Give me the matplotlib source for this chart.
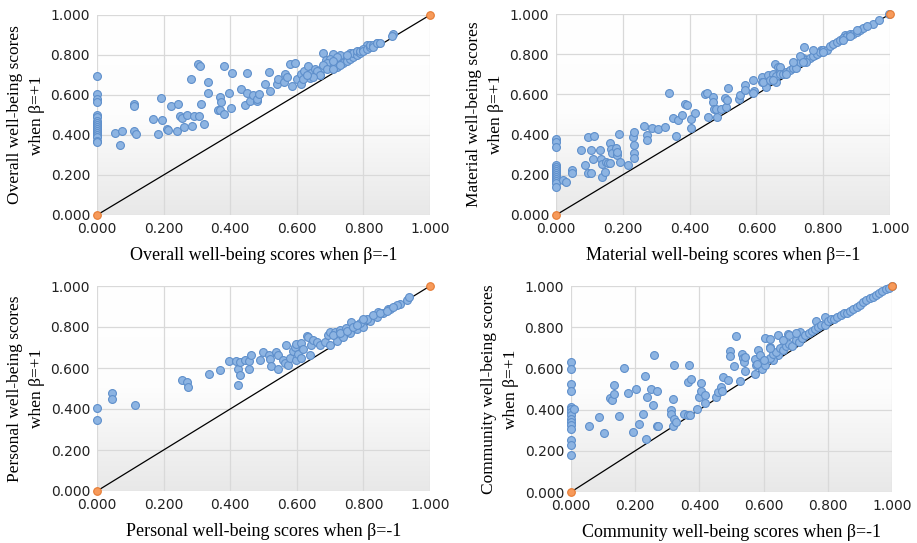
import numpy as np
import matplotlib
matplotlib.use("Agg")
import matplotlib.pyplot as plt
from matplotlib.colors import LinearSegmentedColormap

# ---------------- data ----------------
overall_x = [0]*17 + [0.055, 0.076, 0.070, 0.111, 0.118, 0.112, 0.112, 0.168, 0.184, 0.191, 0.195,
    0.210, 0.214, 0.222, 0.240, 0.242, 0.250, 0.255, 0.262, 0.270, 0.283, 0.285, 0.290, 0.304,
    0.309, 0.307, 0.313, 0.322, 0.334, 0.334, 0.364, 0.369, 0.370, 0.373, 0.380, 0.380, 0.395,
    0.401, 0.404, 0.431, 0.443, 0.450, 0.450, 0.460, 0.468, 0.480, 0.480, 0.486, 0.504, 0.517,
    0.520, 0.540, 0.543, 0.565, 0.563, 0.571, 0.580, 0.585, 0.594, 0.600, 0.614, 0.614, 0.621,
    0.634, 0.640, 0.644, 0.656, 0.669, 0.678, 0.679, 0.689, 0.709, 0.760, 0.810, 0.840, 0.890,
    0.885, 0.70, 0.71, 0.72, 0.72, 0.73, 0.74, 0.74, 0.75, 0.75, 0.76, 0.76, 0.77, 0.77, 0.78,
    0.78, 0.79, 0.79, 0.80, 0.80, 0.81, 0.82, 0.82, 0.83, 0.83, 0.84, 0.85, 0.73, 0.72, 0.70,
    0.69, 0.75, 0.71, 0.68, 0.69, 0.71, 0.73, 0.66, 0.67, 0.65, 0.62, 0.63]
overall_y = [0.695, 0.605, 0.580, 0.565, 0.500, 0.490, 0.470, 0.460, 0.450, 0.440, 0.430, 0.420,
    0.410, 0.400, 0.390, 0.370, 0.365, 0.410, 0.418, 0.348, 0.418, 0.405, 0.555, 0.547, 0.480,
    0.405, 0.587, 0.477, 0.430, 0.423, 0.547, 0.418, 0.557, 0.497, 0.485, 0.440, 0.500, 0.682,
    0.446, 0.497, 0.753, 0.744, 0.497, 0.557, 0.455, 0.667, 0.610, 0.525, 0.590, 0.527, 0.567,
    0.505, 0.744, 0.612, 0.535, 0.711, 0.630, 0.550, 0.712, 0.610, 0.569, 0.602, 0.570, 0.582,
    0.607, 0.657, 0.717, 0.620, 0.654, 0.679, 0.706, 0.664, 0.689, 0.756, 0.647, 0.761, 0.681,
    0.704, 0.657, 0.719, 0.744, 0.686, 0.712, 0.729, 0.702, 0.808, 0.734, 0.774, 0.804, 0.808,
    0.849, 0.861, 0.903, 0.895, 0.74, 0.75, 0.76, 0.74, 0.77, 0.78, 0.76, 0.79, 0.77, 0.80, 0.78,
    0.79, 0.81, 0.80, 0.82, 0.81, 0.82, 0.83, 0.82, 0.83, 0.84, 0.85, 0.85, 0.84, 0.86, 0.86,
    0.80, 0.79, 0.78, 0.76, 0.80, 0.77, 0.75, 0.73, 0.73, 0.75, 0.72, 0.70, 0.69, 0.68, 0.70]

material_x = [0]*14 + [0.022, 0.029, 0.047, 0.049, 0.075, 0.088, 0.095, 0.114, 0.096, 0.106, 0.106,
    0.111, 0.131, 0.134, 0.139, 0.139, 0.146, 0.151, 0.156, 0.161, 0.164, 0.168, 0.163, 0.181,
    0.183, 0.184, 0.188, 0.193, 0.216, 0.231, 0.234, 0.233, 0.234, 0.233, 0.264, 0.271, 0.271,
    0.286, 0.304, 0.326, 0.339, 0.351, 0.359, 0.366, 0.378, 0.385, 0.393, 0.403, 0.405, 0.417,
    0.447, 0.453, 0.455, 0.470, 0.470, 0.473, 0.482, 0.480, 0.495, 0.505, 0.510, 0.513, 0.515,
    0.547, 0.550, 0.567, 0.565, 0.590, 0.593, 0.590, 0.617, 0.617, 0.630, 0.634, 0.650, 0.657,
    0.664, 0.671, 0.672, 0.660, 0.744, 0.774, 0.794, 0.864, 0.948, 0.968, 0.998,
    0.62, 0.64, 0.66, 0.67, 0.68, 0.69, 0.70, 0.71, 0.72, 0.72, 0.73, 0.74, 0.75, 0.76, 0.77,
    0.78, 0.79, 0.80, 0.81, 0.82, 0.83, 0.84, 0.85, 0.86, 0.87, 0.88, 0.89, 0.90, 0.91, 0.92,
    0.93, 0.71, 0.73, 0.75, 0.77, 0.80, 0.86, 0.88, 0.90, 0.65, 0.69, 0.74]
material_y = [0.376, 0.365, 0.340, 0.249, 0.240, 0.230, 0.220, 0.210, 0.200, 0.190, 0.180, 0.170,
    0.160, 0.140, 0.174, 0.166, 0.224, 0.207, 0.323, 0.249, 0.390, 0.393, 0.207, 0.207, 0.323,
    0.277, 0.323, 0.277, 0.190, 0.254, 0.216, 0.265, 0.257, 0.357, 0.327, 0.307, 0.257, 0.332,
    0.299, 0.315, 0.401, 0.265, 0.249, 0.390, 0.415, 0.348, 0.307, 0.282, 0.444, 0.398, 0.373,
    0.431, 0.428, 0.440, 0.609, 0.481, 0.395, 0.473, 0.498, 0.552, 0.546, 0.476, 0.431, 0.506,
    0.600, 0.609, 0.489, 0.585, 0.564, 0.526, 0.486, 0.526, 0.526, 0.580, 0.539, 0.572, 0.630,
    0.575, 0.597, 0.647, 0.622, 0.672, 0.619, 0.609, 0.685, 0.663, 0.635, 0.697, 0.700, 0.750,
    0.738, 0.721, 0.738, 0.663, 0.837, 0.796, 0.821, 0.896, 0.950, 0.970, 0.998,
    0.66, 0.67, 0.69, 0.70, 0.70, 0.71, 0.72, 0.73, 0.75, 0.73, 0.76, 0.78, 0.77, 0.78, 0.79,
    0.80, 0.81, 0.82, 0.82, 0.84, 0.85, 0.86, 0.87, 0.88, 0.89, 0.90, 0.90, 0.91, 0.92, 0.93,
    0.94, 0.76, 0.79, 0.76, 0.82, 0.81, 0.87, 0.89, 0.92, 0.67, 0.70, 0.76]

personal_x = [0, 0, 0.044, 0.044, 0.115, 0.255, 0.270, 0.273, 0.335, 0.368, 0.396, 0.418, 0.423,
    0.423, 0.430, 0.428, 0.443, 0.455, 0.456, 0.463, 0.488, 0.498, 0.518, 0.520, 0.523, 0.537,
    0.543, 0.543, 0.558, 0.564, 0.567, 0.573, 0.579, 0.589, 0.594, 0.597, 0.599, 0.604, 0.614,
    0.614, 0.620, 0.630, 0.634, 0.640, 0.644, 0.650, 0.660, 0.669, 0.684, 0.694, 0.700, 0.714,
    0.729, 0.749, 0.764, 0.770, 0.790, 0.804, 0.820, 0.845, 0.875, 0.910, 0.930, 0.938,
    0.70, 0.72, 0.74, 0.76, 0.78, 0.80, 0.82, 0.84, 0.86, 0.88, 0.90, 0.71, 0.73, 0.75, 0.77,
    0.79, 0.81, 0.83, 0.85, 0.87, 0.89, 0.78, 0.80]
personal_y = [0.403, 0.346, 0.476, 0.451, 0.419, 0.541, 0.532, 0.508, 0.570, 0.588, 0.636, 0.633,
    0.597, 0.516, 0.565, 0.630, 0.638, 0.633, 0.597, 0.662, 0.638, 0.679, 0.662, 0.643, 0.609,
    0.679, 0.662, 0.597, 0.638, 0.622, 0.711, 0.615, 0.649, 0.682, 0.703, 0.719, 0.641, 0.666,
    0.649, 0.724, 0.695, 0.756, 0.750, 0.662, 0.711, 0.735, 0.727, 0.714, 0.727, 0.760, 0.776,
    0.776, 0.784, 0.795, 0.825, 0.792, 0.808, 0.833, 0.841, 0.873, 0.890, 0.914, 0.930, 0.946,
    0.71, 0.73, 0.75, 0.77, 0.79, 0.80, 0.83, 0.85, 0.87, 0.89, 0.905, 0.76, 0.77, 0.78, 0.80,
    0.82, 0.84, 0.86, 0.87, 0.88, 0.90, 0.81, 0.84]

community_x = [0]*15 + [0.010, 0.057, 0.088, 0.104, 0.122, 0.127, 0.133, 0.135, 0.149, 0.166,
    0.179, 0.193, 0.201, 0.213, 0.224, 0.229, 0.234, 0.237, 0.249, 0.254, 0.260, 0.268, 0.268,
    0.272, 0.312, 0.312, 0.317, 0.320, 0.317, 0.322, 0.327, 0.353, 0.364, 0.367, 0.366, 0.374,
    0.371, 0.393, 0.400, 0.406, 0.406, 0.416, 0.416, 0.453, 0.459, 0.467, 0.474, 0.471, 0.489,
    0.494, 0.494, 0.509, 0.514, 0.527, 0.532, 0.535, 0.538, 0.541, 0.543, 0.572, 0.572, 0.577,
    0.582, 0.588, 0.595, 0.603, 0.605, 0.619, 0.619, 0.645, 0.645, 0.629, 0.676, 0.712, 0.764,
    0.790, 0.62, 0.63, 0.64, 0.65, 0.66, 0.67, 0.68, 0.69, 0.70, 0.71, 0.72, 0.73, 0.74, 0.75,
    0.76, 0.77, 0.78, 0.79, 0.80, 0.81, 0.82, 0.83, 0.84, 0.85, 0.86, 0.87, 0.88, 0.89, 0.90,
    0.91, 0.92, 0.93, 0.94, 0.95, 0.96, 0.97, 0.98, 0.99, 1.00, 0.66, 0.68, 0.70, 0.58, 0.60,
    0.62]
community_y = [0.631, 0.599, 0.526, 0.489, 0.413, 0.405, 0.388, 0.372, 0.356, 0.340, 0.327,
    0.307, 0.251, 0.227, 0.181, 0.401, 0.320, 0.364, 0.288, 0.456, 0.445, 0.477, 0.518, 0.369,
    0.602, 0.482, 0.291, 0.502, 0.332, 0.380, 0.561, 0.259, 0.461, 0.502, 0.424, 0.663, 0.489,
    0.320, 0.320, 0.396, 0.380, 0.453, 0.618, 0.320, 0.356, 0.340, 0.380, 0.372, 0.618, 0.534,
    0.547, 0.375, 0.405, 0.461, 0.531, 0.489, 0.472, 0.434, 0.461, 0.485, 0.510, 0.558, 0.489,
    0.542, 0.683, 0.660, 0.612, 0.757, 0.537, 0.672, 0.650, 0.631, 0.586, 0.655, 0.574, 0.647,
    0.615, 0.688, 0.663, 0.595, 0.615, 0.748, 0.744, 0.704, 0.761, 0.663, 0.639, 0.769, 0.777,
    0.828, 0.850, 0.65, 0.67, 0.68, 0.70, 0.69, 0.71, 0.72, 0.71, 0.74, 0.73, 0.75, 0.76, 0.77,
    0.78, 0.79, 0.80, 0.81, 0.81, 0.83, 0.84, 0.84, 0.85, 0.86, 0.87, 0.87, 0.88, 0.89, 0.90,
    0.91, 0.92, 0.93, 0.94, 0.945, 0.955, 0.965, 0.975, 0.985, 0.99, 1.00, 0.74, 0.76, 0.77,
    0.62, 0.64, 0.70]

ref_x = [0.0, 1.0]
ref_y = [0.0, 1.0]
ticks = [0.0, 0.2, 0.4, 0.6, 0.8, 1.0]

panels = [
    (overall_x, overall_y, "Overall well-being scores when \u03b2=-1",
     "Overall well-being scores\nwhen \u03b2=+1", [97, 15, 430, 215]),
    (material_x, material_y, "Material well-being scores when \u03b2=-1",
     "Material well-being scores\nwhen \u03b2=+1", [556, 14, 890, 215]),
    (personal_x, personal_y, "Personal well-being scores when \u03b2=-1",
     "Personal well-being scores\nwhen \u03b2=+1", [97, 286, 430, 491]),
    (community_x, community_y, "Community well-being scores when \u03b2=-1",
     "Community well-being scores\nwhen \u03b2=+1", [571, 286, 892, 492]),
]

W, H = 917, 543
fig = plt.figure(figsize=(W/100, H/100), dpi=100)
grad = LinearSegmentedColormap.from_list("g", ["#ffffff", "#fdfdfd", "#e8e8e8"])
grad_arr = np.linspace(0, 1, 256).reshape(-1, 1)   # top white -> bottom grey

for xs, ys, xl, yl, (x0, y0, x1, y1) in panels:
    ax = fig.add_axes([x0/W, 1 - y1/H, (x1-x0)/W, (y1-y0)/H])
    ax.imshow(grad_arr, cmap=grad, aspect="auto", extent=[0, 1, 0, 1],
              origin="upper", zorder=0, vmin=0, vmax=1)
    ax.set_xlim(0, 1)
    ax.set_ylim(0, 1)
    ax.set_xticks(ticks)
    ax.set_yticks(ticks)
    ax.set_xticklabels([f"{t:.3f}" for t in ticks], fontsize=10, family="DejaVu Sans")
    ax.set_yticklabels([f"{t:.3f}" for t in ticks], fontsize=10, family="DejaVu Sans")
    ax.tick_params(length=0, pad=5, colors="#222222")
    ax.grid(True, color="#d9d9d9", linewidth=0.9, zorder=1)
    ax.set_axisbelow(True)
    for s in ax.spines.values():
        s.set_visible(False)
    ax.plot(ref_x, ref_y, color="black", linewidth=0.9, zorder=2, clip_on=False)
    ax.scatter(xs, ys, s=32, facecolor="#8DB4E2", edgecolor="#5E8FCB", linewidth=0.8,
               zorder=3, clip_on=False)
    ax.scatter(ref_x, ref_y, s=30, facecolor="#F79A5A", edgecolor="#E57B33", linewidth=0.8,
               zorder=4, clip_on=False)
    ax.set_xlabel(xl, fontsize=13, family="Liberation Serif", labelpad=8)
    ax.set_ylabel(yl, fontsize=12.5, family="Liberation Serif", labelpad=4, linespacing=1.5)

fig.savefig("out.png", dpi=100)
